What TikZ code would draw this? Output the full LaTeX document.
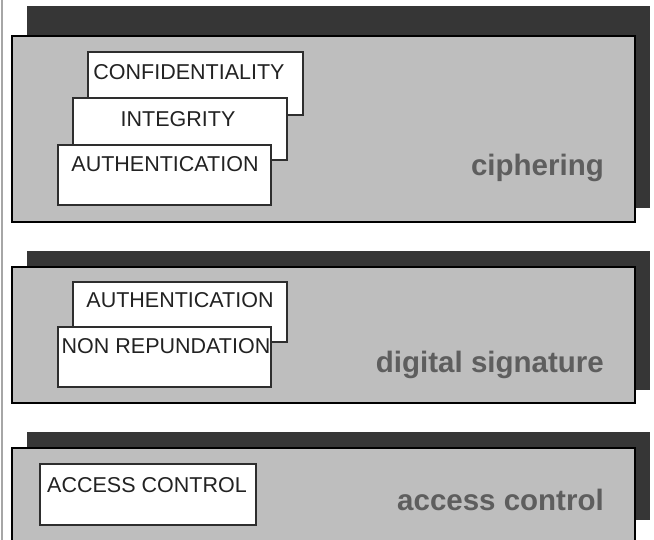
\documentclass[tikz,border=0pt]{standalone}
\usepackage{fontspec}
\setmainfont{Liberation Sans}
\definecolor{shade}{HTML}{363636}
\definecolor{panelgrey}{HTML}{BEBEBE}
\definecolor{boxedge}{HTML}{2E2E2E}
\definecolor{labelgrey}{HTML}{5E5E5E}
\definecolor{tagink}{HTML}{222222}
\begin{document}
\begin{tikzpicture}[x=1pt,y=-1pt,
  backpanel/.style={fill=shade},
  frontpanel/.style={fill=panelgrey, draw=black, line width=1.6pt},
  tagbox/.style={fill=white, draw=boxedge, line width=1.6pt},
  tagtext/.style={anchor=base, inner sep=0pt, text=tagink,
    font=\fontsize{21.5}{22}\selectfont},
  bigtext/.style={anchor=base east, inner sep=0pt, text=labelgrey,
    font=\bfseries\fontsize{29.5}{30}\selectfont}]
\useasboundingbox (0,0) rectangle (654,540);
\fill[white] (0,0) rectangle (654,540);
% thin rule down the left edge
\draw[gray!70, line width=1.4pt] (2,0) -- (2,540);

% --- ciphering panel ---
\fill[backpanel] (27,6) rectangle (650,208);
\draw[frontpanel] (12,36) rectangle (635,222);
\draw[tagbox] (88,52) rectangle (303,115);
\node[tagtext] (conf) at (189,80) {CONFIDENTIALITY};
\draw[tagbox] (73,98) rectangle (287,160);
\node[tagtext] (integ) at (178,127) {INTEGRITY};
\draw[tagbox] (58,145) rectangle (271,205);
\node[tagtext] (auth1) at (165,172) {AUTHENTICATION};
\node[bigtext] (ciph) at (604,176) {ciphering};

% --- digital signature panel ---
\fill[backpanel] (27,251) rectangle (650,390);
\draw[frontpanel] (12,267) rectangle (635,403);
\draw[tagbox] (73,282) rectangle (287,342);
\node[tagtext] (auth2) at (180,308) {AUTHENTICATION};
\draw[tagbox] (58,327) rectangle (271,387);
\node[tagtext] (nonrep) at (166,353) {NON REPUNDATION};
\node[bigtext] (dsig) at (604,373) {digital signature};

% --- access control panel ---
\fill[backpanel] (27,432) rectangle (650,520);
\draw[frontpanel] (12,448) rectangle (635,546);
\draw[tagbox] (40,464) rectangle (256,525);
\node[tagtext] (acc) at (147,492) {ACCESS CONTROL};
\node[bigtext] (accl) at (604,510) {access control};
\end{tikzpicture}
\end{document}
